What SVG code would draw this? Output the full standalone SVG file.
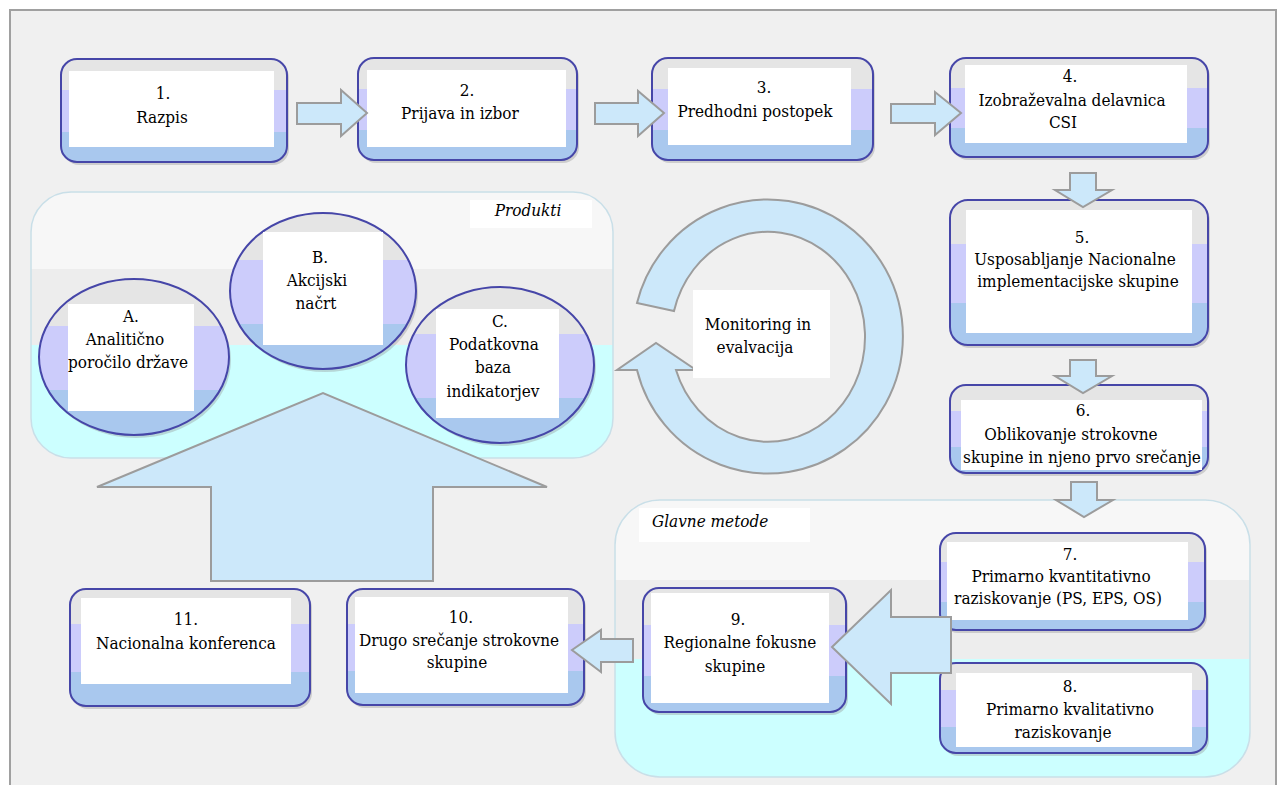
<svg xmlns="http://www.w3.org/2000/svg" width="1280" height="785" viewBox="0 0 1280 785">
<style>
text{font-family:'DejaVu Serif Condensed','DejaVu Serif',serif;font-stretch:condensed;font-size:17px;fill:#000;text-anchor:middle}
.lbl{font-style:italic}
.box{fill:url(#gBox);stroke:#4646a8;stroke-width:2}
.sh{fill:#8c8c8c;opacity:.35}
.wh{fill:#fff}
.cont{fill:url(#gCont);stroke:#c9dfe8;stroke-width:1.5}
.arr{fill:#cce8fa;stroke:#9c9c9c;stroke-width:2;stroke-linejoin:miter}
</style>
<defs>
<linearGradient id="gBox" x1="0" y1="0" x2="0" y2="1">
<stop offset="0" stop-color="#e5e5e5"/><stop offset="0.3" stop-color="#e5e5e5"/>
<stop offset="0.3" stop-color="#ccccfb"/><stop offset="0.71" stop-color="#ccccfb"/>
<stop offset="0.71" stop-color="#a9c8ee"/><stop offset="1" stop-color="#a9c8ee"/>
</linearGradient>
<linearGradient id="gCont" x1="0" y1="0" x2="0" y2="1">
<stop offset="0" stop-color="#f7f7f7"/><stop offset="0.29" stop-color="#f7f7f7"/>
<stop offset="0.29" stop-color="#ededed"/><stop offset="0.575" stop-color="#ededed"/>
<stop offset="0.575" stop-color="#ccffff"/><stop offset="1" stop-color="#ccffff"/>
</linearGradient>
</defs>
<rect x="0" y="0" width="1280" height="785" fill="#fff"/>
<rect x="10" y="10" width="1266" height="790" fill="#f0f0f0" stroke="#a0a0a0" stroke-width="2"/>

<g id="produkti">
<rect class="cont" x="31" y="192" width="582" height="266" rx="40"/>
<rect class="wh" x="470" y="200" width="122" height="28"/>
<text class="lbl" x="528" y="216">Produkti</text>
</g>
<g id="glavne-metode">
<rect class="cont" x="615" y="500" width="635" height="277" rx="45"/>
<rect class="wh" x="639" y="508" width="171" height="34"/>
<text class="lbl" x="652" y="527" style="text-anchor:start">Glavne metode</text>
</g>

<g id="nodeA">
<ellipse class="sh" cx="136" cy="360" rx="95" ry="78"/>
<ellipse class="box" cx="134" cy="357" rx="95" ry="78"/>
<rect class="wh" x="68" y="304" width="126" height="107"/>
<text x="131" y="322">A.</text>
<text x="125" y="345">Analitično</text>
<text x="128" y="368">poročilo države</text>
</g>
<g id="nodeB">
<ellipse class="sh" cx="325" cy="294" rx="93" ry="78"/>
<ellipse class="box" cx="323" cy="291" rx="93" ry="78"/>
<rect class="wh" x="263" y="232" width="120" height="113"/>
<text x="320" y="263">B.</text>
<text x="317" y="286">Akcijski</text>
<text x="316" y="309">načrt</text>
</g>
<g id="nodeC">
<ellipse class="sh" cx="502" cy="368" rx="94" ry="78"/>
<ellipse class="box" cx="500" cy="365" rx="94" ry="78"/>
<rect class="wh" x="436" y="309" width="123" height="109"/>
<text x="500" y="327">C.</text>
<text x="494" y="350">Podatkovna</text>
<text x="493" y="373">baza</text>
<text x="493" y="397">indikatorjev</text>
</g>

<g id="monitoring">
<path class="arr" d="M637,303 A135,137 0 1 1 637,370 L617,370 L656,343 L696,370 L676,370 A97,105 0 1 0 674,311 Z"/>
<rect class="wh" x="693" y="290" width="137" height="88"/>
<text x="758" y="330">Monitoring in</text>
<text x="755" y="353">evalvacija</text>
</g>

<g id="node1">
<rect class="sh" x="63" y="62" width="226" height="103" rx="16"/>
<rect class="box" x="61" y="59" width="226" height="103" rx="16"/>
<rect class="wh" x="69" y="71" width="205" height="76"/>
<text x="163" y="99">1.</text>
<text x="162" y="123">Razpis</text>
</g>
<g id="node2">
<rect class="sh" x="360" y="61" width="219" height="102" rx="16"/>
<rect class="box" x="358" y="58" width="219" height="102" rx="16"/>
<rect class="wh" x="367" y="70" width="199" height="77"/>
<text x="467" y="96">2.</text>
<text x="460" y="119">Prijava in izbor</text>
</g>
<g id="node3">
<rect class="sh" x="654" y="61" width="221" height="102" rx="16"/>
<rect class="box" x="652" y="58" width="221" height="102" rx="16"/>
<rect class="wh" x="668" y="68" width="183" height="77"/>
<text x="764" y="93">3.</text>
<text x="755" y="117">Predhodni postopek</text>
</g>
<g id="node4">
<rect class="sh" x="952" y="61" width="258" height="99" rx="16"/>
<rect class="box" x="950" y="58" width="258" height="99" rx="16"/>
<rect class="wh" x="965" y="65" width="222" height="78"/>
<text x="1070" y="82">4.</text>
<text x="1072" y="106">Izobraževalna delavnica</text>
<text x="1063" y="128">CSI</text>
</g>
<g id="node5">
<rect class="sh" x="952" y="203" width="258" height="145" rx="18"/>
<rect class="box" x="950" y="200" width="258" height="145" rx="18"/>
<rect class="wh" x="966" y="210" width="226" height="123"/>
<text x="1082" y="243">5.</text>
<text x="1075" y="265">Usposabljanje Nacionalne</text>
<text x="1078" y="287">implementacijske skupine</text>
</g>
<g id="node6">
<rect class="sh" x="952" y="388" width="258" height="88" rx="16"/>
<rect class="box" x="950" y="385" width="258" height="88" rx="16"/>
<rect class="wh" x="961" y="400" width="241" height="70"/>
<text x="1083" y="416">6.</text>
<text x="1071" y="440">Oblikovanje strokovne</text>
<text x="1082" y="463">skupine in njeno prvo srečanje</text>
</g>
<g id="node7">
<rect class="sh" x="942" y="536" width="265" height="97" rx="16"/>
<rect class="box" x="940" y="533" width="265" height="97" rx="16"/>
<rect class="wh" x="947" y="542" width="241" height="78"/>
<text x="1070" y="560">7.</text>
<text x="1061" y="582">Primarno kvantitativno</text>
<text x="1058" y="604">raziskovanje (PS, EPS, OS)</text>
</g>
<g id="node8">
<rect class="sh" x="942" y="666" width="267" height="90" rx="16"/>
<rect class="box" x="940" y="663" width="267" height="90" rx="16"/>
<rect class="wh" x="956" y="673" width="236" height="74"/>
<text x="1070" y="692">8.</text>
<text x="1070" y="715">Primarno kvalitativno</text>
<text x="1063" y="738">raziskovanje</text>
</g>
<g id="node9">
<rect class="sh" x="645" y="591" width="203" height="124" rx="16"/>
<rect class="box" x="643" y="588" width="203" height="124" rx="16"/>
<rect class="wh" x="651" y="593" width="178" height="110"/>
<text x="738" y="625">9.</text>
<text x="740" y="648">Regionalne fokusne</text>
<text x="735" y="672">skupine</text>
</g>
<g id="node10">
<rect class="sh" x="349" y="592" width="237" height="116" rx="16"/>
<rect class="box" x="347" y="589" width="237" height="116" rx="16"/>
<rect class="wh" x="355" y="597" width="213" height="96"/>
<text x="461" y="623">10.</text>
<text x="459" y="646">Drugo srečanje strokovne</text>
<text x="457" y="668">skupine</text>
</g>
<g id="node11">
<rect class="sh" x="72" y="592" width="240" height="117" rx="16"/>
<rect class="box" x="70" y="589" width="240" height="117" rx="16"/>
<rect class="wh" x="81" y="598" width="210" height="86"/>
<text x="186" y="625">11.</text>
<text x="186" y="649">Nacionalna konferenca</text>
</g>

<g id="connectors">
<polygon class="arr" points="297,103 341,103 341,90 367,113 341,136 341,124 297,124"/>
<polygon class="arr" points="595,103 638,103 638,91 664,113 638,136 638,124 595,124"/>
<polygon class="arr" points="891,104 935,104 935,92 961,113 935,135 935,123 891,123"/>
<polygon class="arr" points="1070,173 1096,173 1096,190 1112,190 1083,207 1055,190 1070,190"/>
<polygon class="arr" points="1070,360 1096,360 1096,376 1112,376 1083,393 1055,376 1070,376"/>
<polygon class="arr" points="1071,482 1097,482 1097,500 1113,500 1084,517 1056,500 1071,500"/>
<polygon class="arr" points="951,617 891,617 891,590 832,647 891,704 891,673 951,673"/>
<polygon class="arr" points="633,639 601,639 601,630 572,650 601,672 601,662 633,662"/>
<polygon class="arr" points="211,581 211,487 97,487 323,393 547,487 433,487 433,581"/>
</g>
</svg>
